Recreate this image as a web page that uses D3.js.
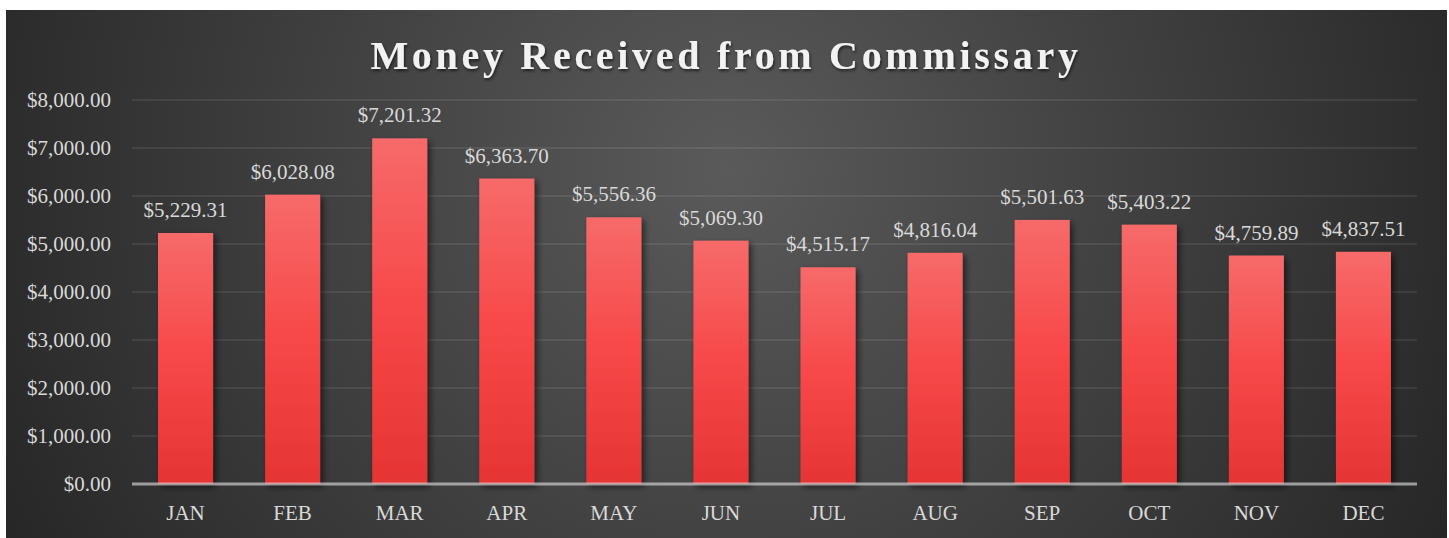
<!DOCTYPE html>
<html lang="en">
<head>
    <meta charset="utf-8">
    <title>Money Received from Commissary</title>
    <script src="https://d3js.org/d3.v7.min.js"></script>
    <style type="text/css">
        body{
            margin: 0;
            background: #ffffff;
        }
        svg{
            display: block;
        }
        .labels{
            font-family: "Liberation Serif", serif;
            font-size: 21px;
            fill: #d9d9d9;
        }
    </style>
</head>
<body>
    <div id="frame"></div>
    <script type="text/javascript">

        const months = ["JAN","FEB","MAR","APR","MAY","JUN","JUL","AUG","SEP","OCT","NOV","DEC"];
        const received = [5229.31, 6028.08, 7201.32, 6363.70, 5556.36, 5069.30, 4515.17, 4816.04, 5501.63, 5403.22, 4759.89, 4837.51];
        const yTicks = [0, 1000, 2000, 3000, 4000, 5000, 6000, 7000, 8000];

        const w = 1449, h = 538;
        const plot = {left: 132, right: 1417, top: 100, bottom: 484};

        const money = d3.format("$,.2f");

        const svg = d3.select("#frame").append("svg")
            .attr("width", w)
            .attr("height", h);

        const defs = svg.append("defs");

        //background glow
        const bg = defs.append("radialGradient")
            .attr("id", "bgGrad")
            .attr("gradientUnits", "userSpaceOnUse")
            .attr("cx", 726).attr("cy", 170).attr("r", 820);
        bg.append("stop").attr("offset", "0%").attr("stop-color", "#5a5a5a");
        bg.append("stop").attr("offset", "100%").attr("stop-color", "#262626");

        //bar fill
        const barGrad = defs.append("linearGradient")
            .attr("id", "barGrad")
            .attr("x1", 0).attr("y1", 0).attr("x2", 0).attr("y2", 1);
        barGrad.append("stop").attr("offset", "0%").attr("stop-color", "#f76a6a");
        barGrad.append("stop").attr("offset", "50%").attr("stop-color", "#f74848");
        barGrad.append("stop").attr("offset", "100%").attr("stop-color", "#e53434");

        const shadow = defs.append("filter").attr("id", "shadow")
            .attr("x", "-20%").attr("y", "-20%").attr("width", "150%").attr("height", "150%");
        shadow.append("feDropShadow")
            .attr("dx", 3).attr("dy", 3).attr("stdDeviation", 3)
            .attr("flood-color", "#000").attr("flood-opacity", 0.55);

        const titleShadow = defs.append("filter").attr("id", "titleShadow");
        titleShadow.append("feDropShadow")
            .attr("dx", 1).attr("dy", 2).attr("stdDeviation", 1.5)
            .attr("flood-color", "#000").attr("flood-opacity", 0.6);

        svg.append("rect")
            .attr("x", 6).attr("y", 10)
            .attr("width", 1441).attr("height", h - 10)
            .attr("fill", "url(#bgGrad)");

        //scales
        const x = d3.scaleBand()
            .domain(months)
            .range([plot.left, plot.right])
            .paddingInner(0.486)
            .paddingOuter(0.243);

        const y = d3.scaleLinear()
            .domain([0, 8000])
            .range([plot.bottom, plot.top]);

        //gridlines
        svg.append("g").selectAll("line")
            .data(yTicks.slice(1))
            .enter()
            .append("line")
            .attr("x1", plot.left).attr("x2", plot.right)
            .attr("y1", d => y(d)).attr("y2", d => y(d))
            .attr("stroke", "#ffffff")
            .attr("stroke-opacity", 0.1)
            .attr("stroke-width", 1.5);

        //y tick labels
        svg.append("g").selectAll("text")
            .data(yTicks)
            .enter()
            .append("text")
            .attr("class", "labels")
            .attr("x", 111)
            .attr("y", d => y(d) + 7)
            .attr("text-anchor", "end")
            .text(d => money(d));

        //bars
        svg.append("g").selectAll("rect")
            .data(received)
            .enter()
            .append("rect")
            .attr("x", (d, i) => x(months[i]))
            .attr("y", d => y(d))
            .attr("width", x.bandwidth())
            .attr("height", d => y(0) - y(d))
            .attr("fill", "url(#barGrad)")
            .attr("filter", "url(#shadow)");

        //axis line
        svg.append("line")
            .attr("x1", plot.left).attr("x2", plot.right)
            .attr("y1", y(0)).attr("y2", y(0))
            .attr("stroke", "#d9d9d9")
            .attr("stroke-opacity", 0.65)
            .attr("stroke-width", 3);

        //value labels
        svg.append("g").selectAll("text")
            .data(received)
            .enter()
            .append("text")
            .attr("class", "labels")
            .attr("x", (d, i) => x(months[i]) + x.bandwidth() / 2)
            .attr("y", d => y(d) - 16)
            .attr("text-anchor", "middle")
            .text(d => money(d));

        //month labels
        svg.append("g").selectAll("text")
            .data(months)
            .enter()
            .append("text")
            .attr("class", "labels")
            .attr("x", d => x(d) + x.bandwidth() / 2)
            .attr("y", 520)
            .attr("text-anchor", "middle")
            .text(d => d);

        //title
        svg.append("text")
            .attr("x", 726)
            .attr("y", 69)
            .attr("text-anchor", "middle")
            .attr("font-family", "Liberation Serif, serif")
            .attr("font-weight", "bold")
            .attr("font-size", "40px")
            .attr("letter-spacing", "3.7px")
            .attr("fill", "#f2f2f2")
            .attr("filter", "url(#titleShadow)")
            .text("Money Received from Commissary");

    </script>
</body>
</html>
